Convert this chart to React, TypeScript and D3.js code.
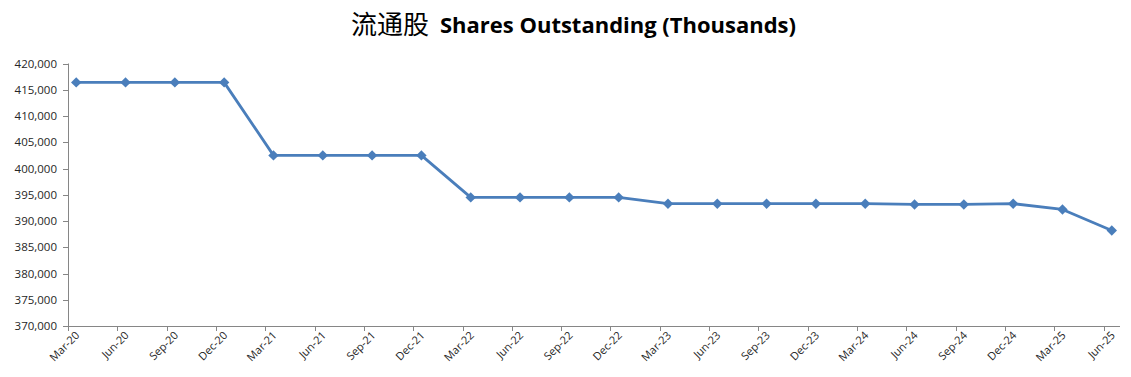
import React from "react";
import * as d3 from "d3";

const categories = [
  "Mar-20", "Jun-20", "Sep-20", "Dec-20",
  "Mar-21", "Jun-21", "Sep-21", "Dec-21",
  "Mar-22", "Jun-22", "Sep-22", "Dec-22",
  "Mar-23", "Jun-23", "Sep-23", "Dec-23",
  "Mar-24", "Jun-24", "Sep-24", "Dec-24",
  "Mar-25", "Jun-25",
];
const sharesOutstanding = [
  416400, 416400, 416400, 416400,
  402500, 402500, 402500, 402500,
  394500, 394500, 394500, 394500,
  393300, 393300, 393300, 393300,
  393300, 393150, 393150, 393300,
  392200, 388200,
];
const yTicks = [370000, 375000, 380000, 385000, 390000, 395000, 400000, 405000, 410000, 415000, 420000];

const W = 1131;
const H = 377;
const left = 68;
const right = 1120;
const top = 63.5;
const bottom = 326;
const lineColor = "#4A7EBB";
const axisColor = "#868686";
const textColor = "#262626";

export default function App() {
  // date axis in months: 64 month slots, ticks each quarter, points mid-month
  const x = d3.scaleLinear().domain([0, categories.length * 3 - 2]).range([left, right]);
  const y = d3.scaleLinear().domain([370000, 420000]).range([bottom, top]);
  const px = (i: number) => x(i * 3 + 0.5);
  const line = d3
    .line<number>()
    .x((_, i) => px(i))
    .y((d) => y(d));
  const fmt = d3.format(",");
  const diamond = "M0,-5.2L5.2,0L0,5.2L-5.2,0Z";

  return (
    <svg
      width={W}
      height={H}
      style={{ position: "absolute", left: 0, top: 0, background: "#fff" }}
    >
      <rect width={W} height={H} fill="#fff" />
      <text
        x={351}
        y={34}
        fontFamily="'Noto Sans CJK SC'"
        fontSize={26}
        fill="#000"
      >
        流通股
      </text>
      <text
        x={440}
        y={33}
        fontFamily="'Open Sans', sans-serif"
        fontWeight="bold"
        fontSize={21}
        fill="#000"
        textLength={356}
        lengthAdjust="spacingAndGlyphs"
      >
        Shares Outstanding (Thousands)
      </text>

      {/* y axis */}
      <line x1={left + 0.5} x2={left + 0.5} y1={top} y2={bottom} stroke={axisColor} />
      {yTicks.map((t) => (
        <g key={t}>
          <line x1={left - 5} x2={left} y1={Math.round(y(t)) + 0.5} y2={Math.round(y(t)) + 0.5} stroke={axisColor} />
          <text
            x={57}
            y={y(t) + 4}
            textAnchor="end"
            fontFamily="'Open Sans', sans-serif"
            fontSize={11.5}
            fill={textColor}
          >
            {fmt(t)}
          </text>
        </g>
      ))}

      {/* x axis */}
      <line x1={left} x2={right} y1={bottom + 0.5} y2={bottom + 0.5} stroke={axisColor} />
      {d3.range(categories.length).map((i) => (
        <line
          key={i}
          x1={Math.round(x(i * 3)) + 0.5}
          x2={Math.round(x(i * 3)) + 0.5}
          y1={bottom}
          y2={bottom + 5}
          stroke={axisColor}
        />
      ))}
      {categories.map((c, i) => (
        <text
          key={c}
          transform={`translate(${px(i) + 4},${bottom + 10}) rotate(-45)`}
          textAnchor="end"
          fontFamily="'Open Sans', sans-serif"
          fontSize={11}
          fill={textColor}
        >
          {c}
        </text>
      ))}

      {/* series */}
      <path d={line(sharesOutstanding) || ""} fill="none" stroke={lineColor} strokeWidth={2.8} strokeLinejoin="round" />
      {sharesOutstanding.map((v, i) => (
        <path key={i} d={diamond} transform={`translate(${px(i)},${y(v)})`} fill={lineColor} />
      ))}
    </svg>
  );
}
